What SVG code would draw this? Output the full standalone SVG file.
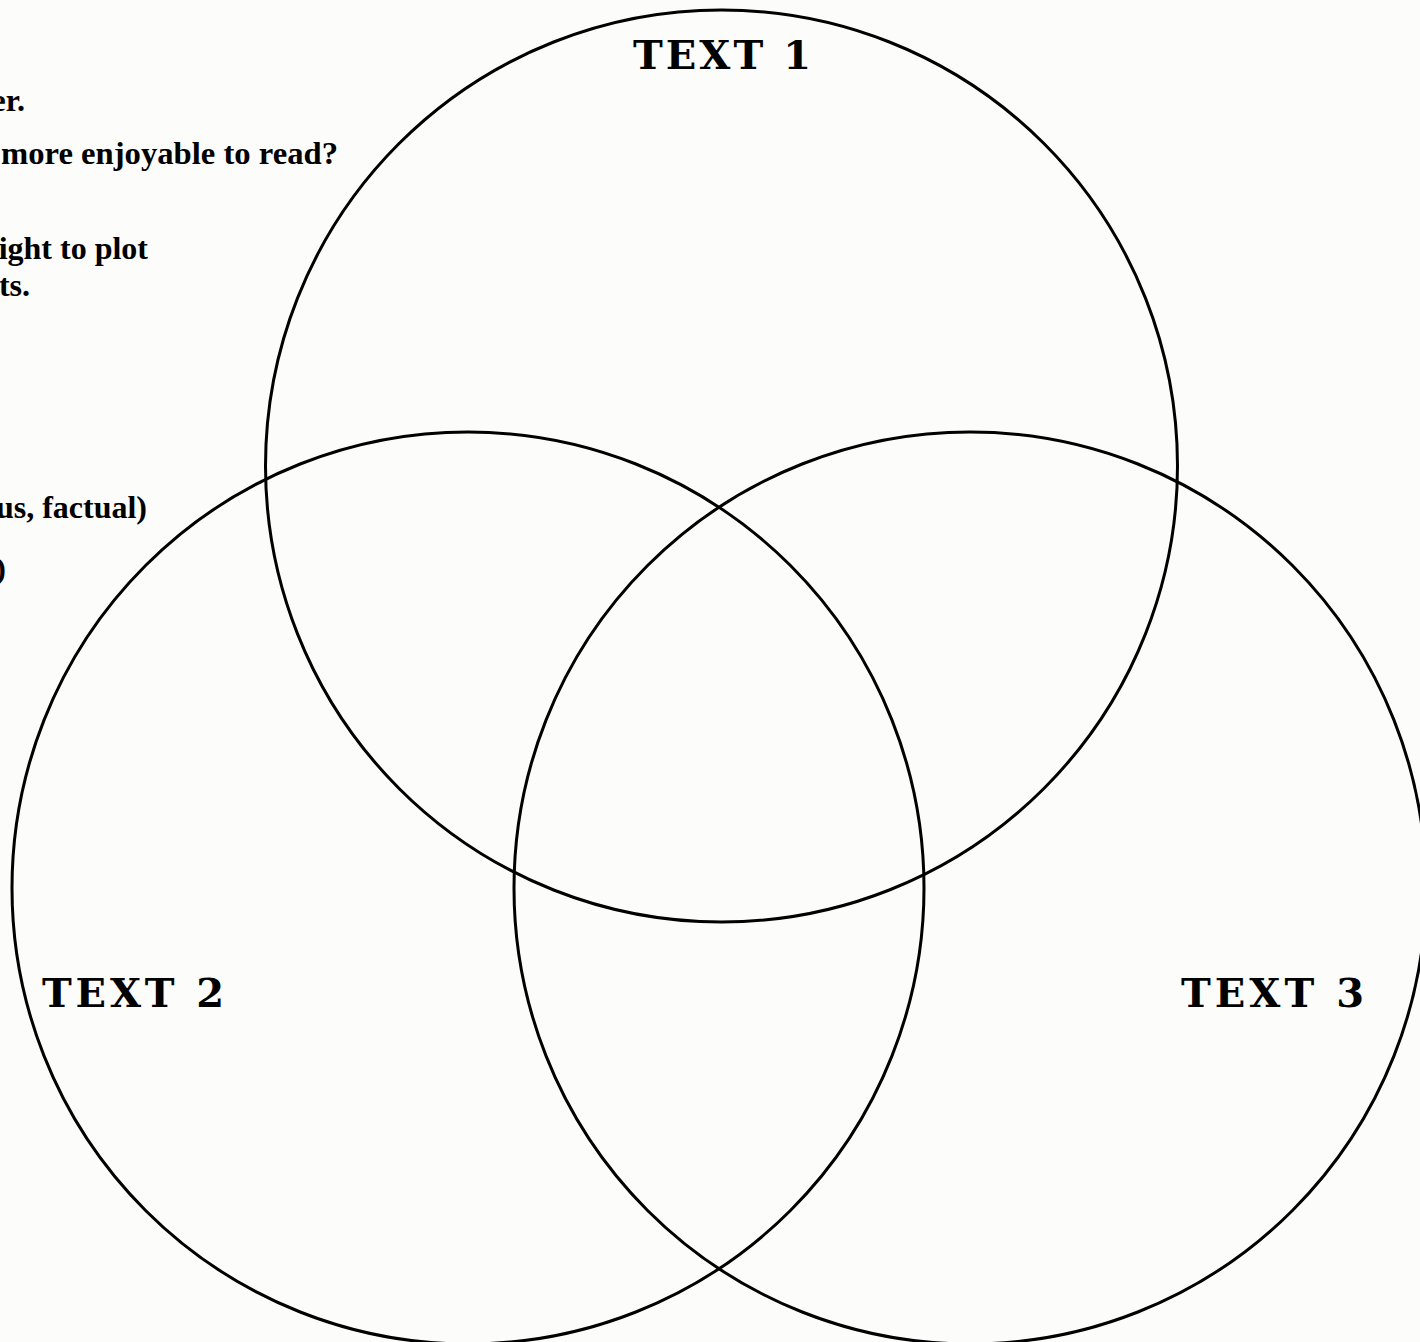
<svg xmlns="http://www.w3.org/2000/svg" width="1420" height="1342" viewBox="0 0 1420 1342">
  <style>
    .ring { fill: none; stroke: #000; stroke-width: 3; }
    .head { font-family: "DejaVu Serif", "Liberation Serif", serif; font-weight: bold; font-size: 40px; fill: #000; }
    .frag { font-family: "Liberation Serif", "Times New Roman", serif; font-weight: bold; font-size: 32px; fill: #000; text-anchor: end; }
  </style>
  <rect x="0" y="0" width="1420" height="1342" fill="#fcfcfa"/>
  <g id="instructions">
    <text class="frag" x="25" y="111">er.</text>
    <text class="frag" x="1" y="164" text-anchor="start" style="text-anchor:start" textLength="337" lengthAdjust="spacingAndGlyphs">more enjoyable to read?</text>
    <text class="frag" x="148" y="259">ight to plot</text>
    <text class="frag" x="30" y="296">ts.</text>
    <text class="frag" x="147" y="518">us, factual)</text>
    <text class="frag" x="6" y="579">)</text>
  </g>
  <g id="text1">
    <circle class="ring" cx="721.5" cy="466" r="456"/>
    <text class="head" x="633" y="69" textLength="178" lengthAdjust="spacing">TEXT 1</text>
  </g>
  <g id="text2">
    <circle class="ring" cx="468" cy="888" r="456"/>
    <text class="head" x="42" y="1007" textLength="182" lengthAdjust="spacing">TEXT 2</text>
  </g>
  <g id="text3">
    <circle class="ring" cx="970" cy="888" r="456"/>
    <text class="head" x="1181" y="1007" textLength="183" lengthAdjust="spacing">TEXT 3</text>
  </g>
  <g id="connectors"/>
</svg>
